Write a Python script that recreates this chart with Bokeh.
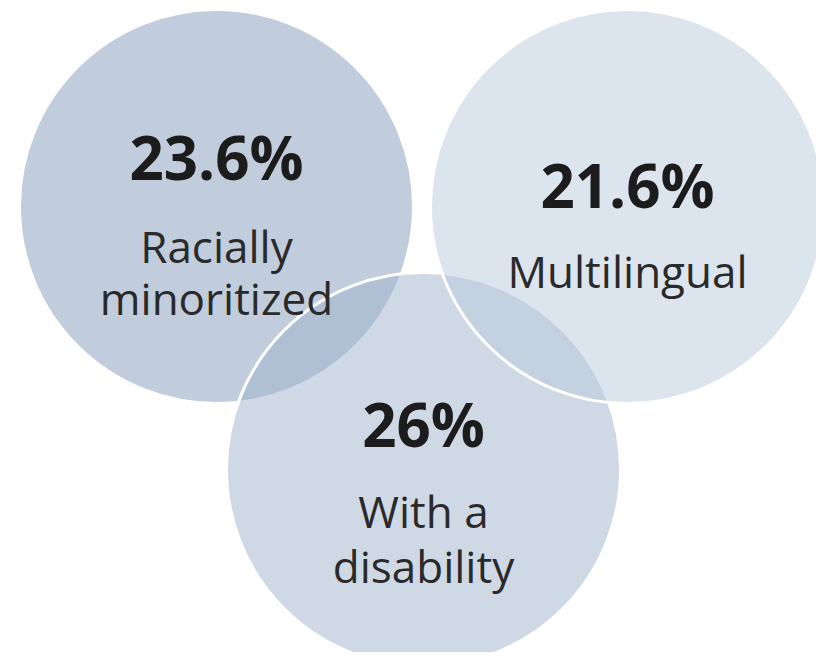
from bokeh.plotting import figure
from bokeh.models import Range1d
from bokeh.core.properties import value
from bokeh.embed import file_html
from bokeh.resources import INLINE

# ---- data ----
groups = ["Racially minoritized", "Multilingual", "With a disability"]
percents = ["23.6%", "21.6%", "26%"]
label_line1 = ["Racially", "Multilingual", "With a"]
label_line2 = ["minoritized", "", "disability"]

# ---- layout (pixel-like coordinates) ----
cx = [216, 627, 423]
cy = [206, 206, 469]
radius = 197
fills = ["#839bb9", "#b9c9dd", "#9fb3cb"]
alphas = [0.5, 0.5, 0.5]
draw_order = [0, 2, 1]

W, H = 816, 652
p = figure(width=W, height=H, output_backend="svg", toolbar_location=None,
           x_range=Range1d(0, W), y_range=Range1d(H, 0),
           min_border=0)
p.axis.visible = False
p.grid.visible = False
p.outline_line_color = None
p.background_fill_color = "white"
p.border_fill_color = "white"

for i in draw_order:
    p.circle(x=[cx[i]], y=[cy[i]], radius=radius, fill_color=fills[i],
             fill_alpha=alphas[i], line_color="white", line_width=3)

font = value("Open Sans")
num_y = [156, 184, 423]
l1_y = [245, 270, 510]
l2_y = [297, None, 565]

p.text(x=cx, y=num_y, text=percents, text_font=font, text_font_size="60px",
       text_font_style="bold", text_color="#1c1c1c", text_align="center",
       text_baseline="alphabetic")
p.text(x=cx, y=l1_y, text=label_line1, text_font=font, text_font_size="44px",
       text_color="#2a2a2a", text_align="center", text_baseline="alphabetic")
idx = [i for i in range(3) if label_line2[i]]
p.text(x=[cx[i] for i in idx], y=[l2_y[i] for i in idx],
       text=[label_line2[i] for i in idx], text_font=font, text_font_size="44px",
       text_color="#2a2a2a", text_align="center", text_baseline="alphabetic")

open("out.html", "w").write(file_html(p, INLINE))
